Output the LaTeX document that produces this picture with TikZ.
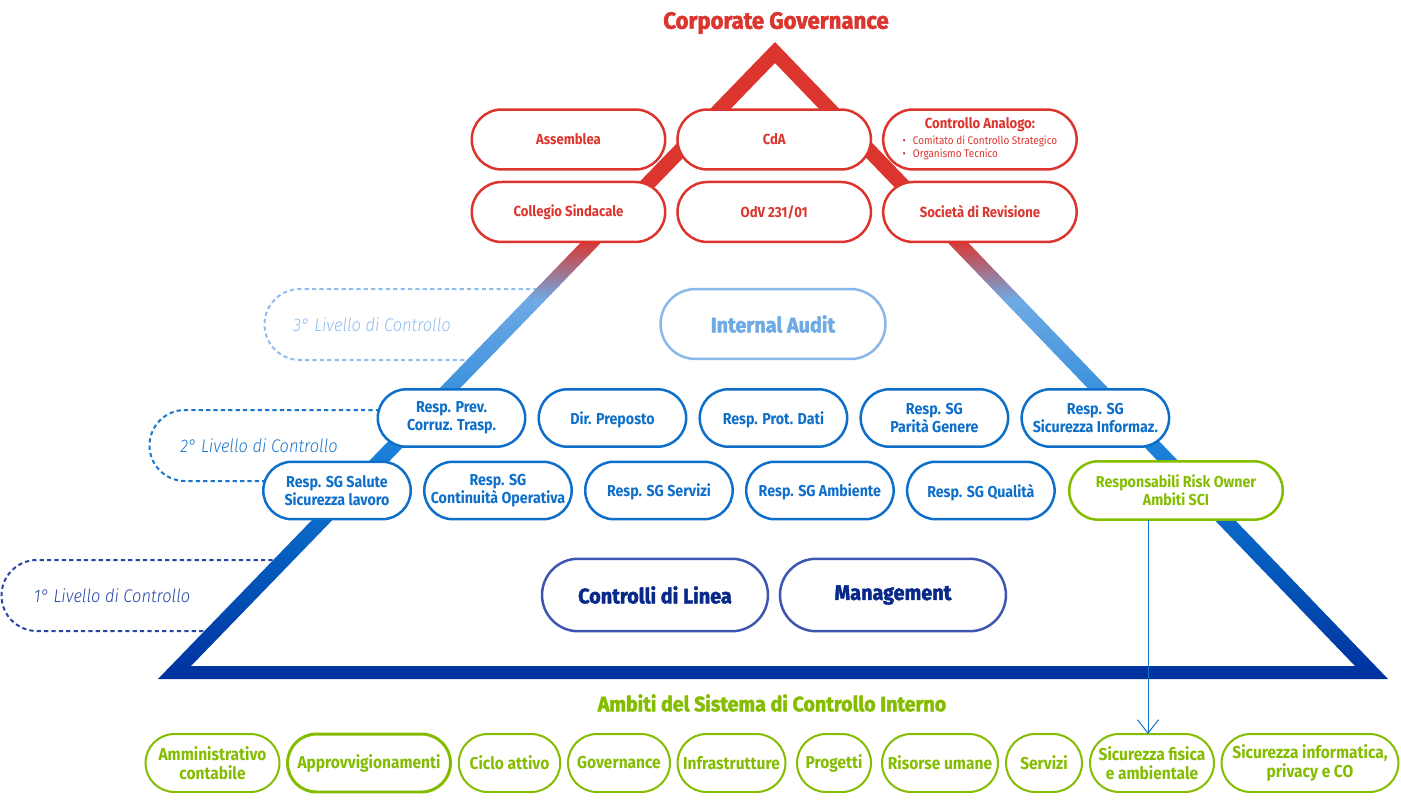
\documentclass[tikz,border=0pt]{standalone}
\usepackage{fontspec}
\usepackage{xcolor}
\setmainfont{Fira Sans}[FakeStretch=0.9]
\newfontfamily\heavyfont{Fira Sans}[BoldFeatures={FakeBold=2,FakeStretch=0.94}]
\newfontfamily\lightfont{Fira Sans Light}[FakeStretch=0.9,ItalicFont={Fira Sans Light Italic}]
\usetikzlibrary{arrows.meta,shapes.misc,positioning,calc}
\definecolor{govred}{HTML}{DC352E}
\definecolor{auditblue}{HTML}{8AB8EC}
\definecolor{auditfill}{HTML}{6EAAE4}
\definecolor{respblue}{HTML}{0E6FCB}
\definecolor{lineblue}{HTML}{3F55B3}
\definecolor{linenavy}{HTML}{08288A}
\definecolor{scigreen}{HTML}{84BD00}
\definecolor{lvlthree}{HTML}{8FBDEE}
\definecolor{lvltwo}{HTML}{1A76CC}
\definecolor{lvlone}{HTML}{2746A4}
\definecolor{gradbase}{HTML}{0033A0}
\definecolor{gradlow}{HTML}{055CBD}
\definecolor{gradmid}{HTML}{1A80D9}
\pgfdeclareverticalshading{pyramid-grad}{100bp}{
  color(0bp)=(gradbase);
  color(25.5bp)=(gradbase);
  color(34.3bp)=(gradlow);
  color(43bp)=(gradmid);
  color(54.75bp)=(auditfill);
  color(59.46bp)=(govred);
  color(100bp)=(govred)}
\begin{document}
\begin{tikzpicture}[
x=0.02cm, y=-0.02cm, >=Straight Barb,
base-node/.style = {rounded rectangle,fill=white,outer sep=0pt,inner sep=0pt,align=center,font=\fontsize{9}{10.4}\selectfont\bfseries},
gov-node/.style = {base-node,draw=govred,text=govred,line width=0.05cm,minimum width=3.87cm,minimum height=1.2cm,font=\fontsize{8.3}{10.4}\selectfont\bfseries},
audit-node/.style = {base-node,draw=auditblue,text=auditfill,line width=0.05cm,minimum width=4.5cm,minimum height=1.4cm,font=\fontsize{12}{14}\heavyfont\bfseries},
resp-node/.style = {base-node,draw=respblue,text=respblue,line width=0.05cm,minimum width=2.95cm,minimum height=1.15cm},
oneline-node/.style = {resp-node,text depth=0pt},
line-node/.style = {base-node,draw=lineblue,text=linenavy,line width=0.05cm,minimum width=4.52cm,minimum height=1.45cm,font=\fontsize{12}{14}\heavyfont\bfseries},
owner-node/.style = {base-node,draw=scigreen,text=scigreen,line width=0.05cm,minimum width=4.27cm,minimum height=1.17cm},
scope-node/.style = {base-node,draw=scigreen,text=scigreen,line width=0.04cm,minimum height=1.16cm,font=\fontsize{9.8}{10.9}\selectfont\bfseries},
level-line/.style = {dash pattern=on 2.4pt off 1.8pt,line width=0.04cm},
level-text/.style = {font=\fontsize{10.4}{12}\lightfont\itshape,inner sep=0pt}
]
\useasboundingbox (0,0) rectangle (1401,801);

% level outlines
\coordinate (l3a) at (545,289);
\coordinate (l3c) at (300,289);
\coordinate (l3b) at (475,360);
\coordinate (l2a) at (380,410);
\coordinate (l2c) at (185,410);
\coordinate (l2b) at (265,481);
\coordinate (l1a) at (280,560);
\coordinate (l1c) at (37,560);
\coordinate (l1b) at (215,631);
\draw[level-line,lvlthree] (l3a) -- (l3c) arc[start angle=270,end angle=90,x radius=35.5,y radius=35.5] -- (l3b);
\draw[level-line,lvltwo] (l2a) -- (l2c) arc[start angle=270,end angle=90,x radius=35.5,y radius=35.5] -- (l2b);
\draw[level-line,lvlone] (l1a) -- (l1c) arc[start angle=270,end angle=90,x radius=35.5,y radius=35.5] -- (l1b);

\node [level-text,text=lvlthree] (lvl3) at (372,325) {3° Livello di Controllo};
\node [level-text,text=lvltwo] (lvl2) at (259,446) {2° Livello di Controllo};
\node [level-text,text=lvlone] (lvl1) at (112,596) {1° Livello di Controllo};

% pyramid
\coordinate (apex) at (775,42);
\coordinate (bl) at (158,679);
\coordinate (br) at (1388,679);
\coordinate (inapex) at (775,63);
\coordinate (inbl) at (191,666);
\coordinate (inbr) at (1355,666);
\shade[shading=pyramid-grad,even odd rule] (apex) -- (br) -- (bl) -- cycle (inapex) -- (inbr) -- (inbl) -- cycle;

\node [font=\fontsize{13.4}{15}\heavyfont\bfseries,text=govred,inner sep=0pt] (title) at (776,23) {Corporate Governance};
\node [font=\fontsize{11.9}{14}\heavyfont\bfseries,text=scigreen,inner sep=0pt] (scopes) at (772,703) {Ambiti del Sistema di Controllo Interno};

% governance
\node [gov-node] (assemblea) at (568.5,139.5) {Assemblea};
\node [gov-node, right=0.245cm of assemblea] (cda) {CdA};
\node [gov-node, right=0.245cm of cda] (analogo) {\begin{tabular}{@{}l@{}}
\multicolumn{1}{@{}c@{}}{Controllo Analogo:}\\[-1pt]
{\fontsize{6.3}{7}\mdseries\selectfont\textbullet\hspace{4pt}Comitato di Controllo Strategico}\\[-3pt]
{\fontsize{6.3}{7}\mdseries\selectfont\textbullet\hspace{4pt}Organismo Tecnico}
\end{tabular}};
\node [gov-node, below=0.25cm of assemblea] (collegio) {Collegio Sindacale};
\node [gov-node, right=0.245cm of collegio] (odv) {OdV 231/01};
\node [gov-node, right=0.245cm of odv] (revisione) {Società di Revisione};

\node [audit-node] (audit) at (773,324) {Internal Audit};

% second level
\node [resp-node] (prev) at (451.5,418) {Resp. Prev.\\Corruz. Trasp.};
\node [oneline-node, right=0.27cm of prev] (preposto) {Dir. Preposto};
\node [oneline-node, right=0.27cm of preposto] (dati) {Resp. Prot. Dati};
\node [resp-node, right=0.27cm of dati] (parita) {Resp. SG\\Parità Genere};
\node [resp-node, right=0.27cm of parita] (informaz) {Resp. SG\\Sicurezza Informaz.};

\node [resp-node] (salute) at (337,490.5) {Resp. SG Salute\\Sicurezza lavoro};
\node [resp-node, right=0.27cm of salute] (continuita) {Resp. SG\\Continuità Operativa};
\node [oneline-node, right=0.27cm of continuita] (servizi) {Resp. SG Servizi};
\node [oneline-node, right=0.27cm of servizi] (ambiente) {Resp. SG Ambiente};
\node [oneline-node, right=0.27cm of ambiente] (qualita) {Resp. SG Qualità};
\node [owner-node] (owner) at (1176,490.5) {Responsabili Risk Owner\\Ambiti SCI};

% first level
\node [line-node] (controlli) at (655,595) {Controlli di Linea};
\node [line-node, right=0.24cm of controlli] (management) {Management};

% scopes
\node [scope-node, minimum width=2.68cm] (amm) at (212.5,763) {Amministrativo\\contabile};
\node [scope-node, minimum width=3.26cm, line width=0.06cm] (appr) at (369,763) {Approvvigionamenti};
\node [scope-node, minimum width=2.03cm] (ciclo) at (509.5,763) {Ciclo attivo};
\node [scope-node, minimum width=2.04cm] (gov) at (619,763) {Governance};
\node [scope-node, minimum width=2.16cm] (infra) at (731.5,763) {Infrastrutture};
\node [scope-node, minimum width=1.48cm] (progetti) at (834,763) {Progetti};
\node [scope-node, minimum width=2.32cm] (risorse) at (940,763) {Risorse umane};
\node [scope-node, minimum width=1.52cm] (srv) at (1044,763) {Servizi};
\node [scope-node, minimum width=2.48cm] (fisica) at (1152,763) {Sicurezza fisica\\e ambientale};
\node [scope-node, minimum width=3.54cm] (informatica) at (1310,763) {Sicurezza informatica,\\privacy e CO};

% arrows
\draw[->,respblue,line width=0.02cm,>={Straight Barb[length=0.27cm,width=0.42cm]}] ([xshift=-0.08cm]fisica.north |- owner.south) -- ([xshift=-0.08cm]fisica.north);

\end{tikzpicture}
\end{document}
